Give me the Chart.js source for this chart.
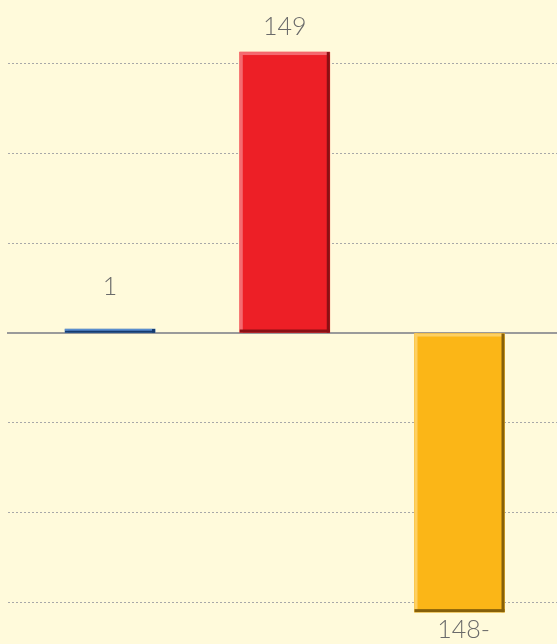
<!DOCTYPE html>
<html>
<head>
<meta charset="utf-8">
<script src="https://cdn.jsdelivr.net/npm/chart.js@4.4.0/dist/chart.umd.min.js"></script>
<style>
    body { margin: 0; background: #FFFADB; }
    #wrap { width: 557px; height: 644px; position: relative; }
</style>
</head>
<body>
<div id="wrap"><canvas id="chart"></canvas></div>
<script>
const categories = [0, 1, 2];
const values = [1, 149, -148];
const valueLabels = ['1', '149', '148-'];
const barColors = ['#2C64AC', '#ED1F26', '#FBB617'];
const lightColors = ['#5C8FD0', '#F46A70', '#FDD064'];
const darkColors = ['#163A6E', '#8A1014', '#86600A'];
const gridValues = [-142.7, -95.1, -47.6, 0, 47.6, 95.1, 142.7];

// bevel edges on each bar, like the old office charts
const bevelPlugin = {
    id: 'bevel',
    afterDatasetsDraw(chart) {
        const ctx = chart.ctx;
        const meta = chart.getDatasetMeta(0);
        meta.data.forEach((bar, i) => {
            const left = bar.x - bar.width / 2;
            const right = bar.x + bar.width / 2;
            const top = Math.min(bar.y, bar.base);
            const bottom = Math.max(bar.y, bar.base);
            const h = bottom - top;
            const e = Math.min(3, h / 2);
            ctx.save();
            ctx.fillStyle = lightColors[i];
            ctx.fillRect(left, top, right - left, e);
            ctx.fillRect(left, top, 3, h);
            ctx.fillStyle = darkColors[i];
            ctx.fillRect(left, bottom - e, right - left, e);
            ctx.fillRect(right - 3, top, 3, h);
            ctx.restore();
        });
    }
};

const labelPlugin = {
    id: 'valueLabels',
    afterDatasetsDraw(chart) {
        const ctx = chart.ctx;
        const meta = chart.getDatasetMeta(0);
        const zero = chart.scales.y.getPixelForValue(0);
        ctx.save();
        ctx.font = '300 25px Lato, "Open Sans", sans-serif';
        ctx.fillStyle = '#6a6a6a';
        ctx.textAlign = 'center';
        ctx.textBaseline = 'middle';
        meta.data.forEach((bar, i) => {
            let y;
            if (values[i] >= 0) {
                y = Math.min(bar.y - 25, zero - 46);
            } else {
                y = bar.y + 18;
            }
            ctx.fillText(valueLabels[i], bar.x + (values[i] < 0 ? 4 : 0), y);
        });
        ctx.restore();
    }
};

const ctx = document.getElementById('chart').getContext('2d');

new Chart(ctx, {
    type: 'bar',
    data: {
        datasets: [{
            data: categories.map((c, i) => ({ x: c, y: values[i] })),
            backgroundColor: barColors,
            borderWidth: 0,
            barThickness: 90,
            minBarLength: 4
        }]
    },
    options: {
        responsive: true,
        maintainAspectRatio: false,
        animation: false,
        layout: { padding: { left: 8, right: 0, top: 0, bottom: 0 } },
        plugins: {
            legend: { display: false },
            tooltip: { enabled: false }
        },
        scales: {
            x: {
                type: 'linear',
                offset: false,
                min: -0.584,
                max: 2.558,
                position: { y: 0 },
                grid: { display: false, offset: false },
                ticks: { display: false },
                border: { display: true, color: '#9a9a9a', width: 2 }
            },
            y: {
                min: -164.9,
                max: 176.6,
                afterBuildTicks: (scale) => {
                    scale.ticks = gridValues.map(v => ({ value: v }));
                },
                grid: {
                    color: (c) => (c.tick && c.tick.value === 0) ? 'rgba(0,0,0,0)' : '#a8a8a8',
                    lineWidth: 1,
                    drawTicks: false
                },
                border: { display: false, dash: [2, 2] },
                ticks: { display: false }
            }
        }
    },
    plugins: [bevelPlugin, labelPlugin]
});
</script>
</body>
</html>
